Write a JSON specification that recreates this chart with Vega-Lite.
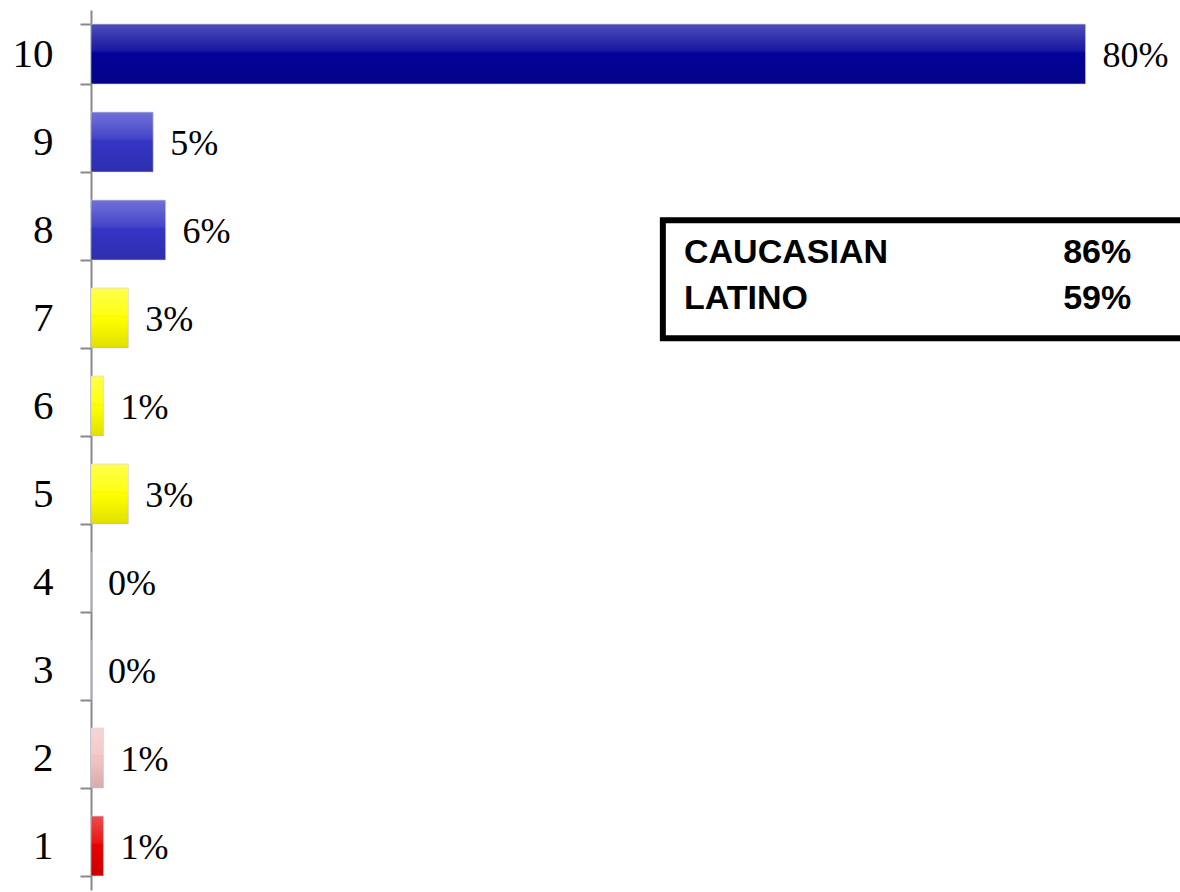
{
  "$schema": "https://vega.github.io/schema/vega-lite/v6.json",
  "width": 1089,
  "height": 880,
  "autosize": {"type": "none"},
  "padding": {"left": 91, "top": 10, "right": 0, "bottom": 2},
  "background": "white",
  "config": {"view": {"stroke": null}},
  "resolve": {"scale": {"y": "independent"}},
  "layer": [
    {
      "data": {"values": [
        {"score": "10", "pct": 0.80, "group": "g10"},
        {"score": "9", "pct": 0.05, "group": "g89"},
        {"score": "8", "pct": 0.06, "group": "g89"},
        {"score": "7", "pct": 0.03, "group": "g567"},
        {"score": "6", "pct": 0.01, "group": "g567"},
        {"score": "5", "pct": 0.03, "group": "g567"},
        {"score": "4", "pct": 0, "group": "g567"},
        {"score": "3", "pct": 0, "group": "g567"},
        {"score": "2", "pct": 0.01, "group": "g2"},
        {"score": "1", "pct": 0.01, "group": "g1"}
      ]},
      "encoding": {
        "y": {
          "field": "score", "type": "ordinal",
          "sort": ["10","9","8","7","6","5","4","3","2","1"],
          "scale": {"paddingInner": 0.32, "paddingOuter": 0.16},
          "axis": {
            "title": null,
            "tickBand": "extent",
            "domainColor": "#888888", "domainWidth": 2,
            "tickColor": "#888888", "tickWidth": 2, "tickSize": 11,
            "labelFont": "Liberation Serif", "labelFontSize": 41, "labelColor": "black",
            "labelPadding": 27
          }
        }
      },
      "layer": [
        {
          "mark": {"type": "bar", "stroke": "#c8c8e8", "strokeWidth": 1, "strokeOpacity": 0.6},
          "encoding": {
            "x": {"field": "pct", "type": "quantitative", "scale": {"domain": [0, 0.876], "nice": false}, "axis": null},
            "fill": {"field": "group", "type": "nominal", "legend": null,
              "scale": {"domain": ["g10","g89","g567","g2","g1"], "range": ["#03039a", "#3434c6", "#ffff00", "#f3c4c4", "#e80000"]}}
          }
        },
        {
          "mark": {"type": "bar", "fill": {"gradient": "linear", "x1": 0, "y1": 0, "x2": 0, "y2": 1, "stops": [
            {"offset": 0, "color": "rgba(255,255,255,0.30)"},
            {"offset": 0.45, "color": "rgba(255,255,255,0.08)"},
            {"offset": 0.5, "color": "rgba(0,0,0,0)"},
            {"offset": 1, "color": "rgba(0,0,0,0.12)"}
          ]}},
          "encoding": {
            "x": {"field": "pct", "type": "quantitative"}
          }
        },
        {
          "mark": {"type": "text", "align": "left", "baseline": "middle", "dx": 17, "dy": 2, "font": "Liberation Serif", "fontSize": 36, "color": "black"},
          "encoding": {
            "x": {"field": "pct", "type": "quantitative"},
            "text": {"field": "pct", "type": "quantitative", "format": ".0%"}
          }
        }
      ]
    },
    {
      "layer": [
        {
          "data": {"values": [{"x": 0.46, "x2": 0.95, "top": 8.11, "bottom": 6.77}]},
          "mark": {"type": "rect", "fill": "white", "stroke": "black", "strokeWidth": 6},
          "encoding": {
            "x": {"field": "x", "type": "quantitative"},
            "x2": {"field": "x2"},
            "y": {"field": "top", "type": "quantitative", "scale": {"domain": [0.5, 10.5], "nice": false, "zero": false}, "axis": null},
            "y2": {"field": "bottom"}
          }
        },
        {
          "data": {"values": [
            {"label": "CAUCASIAN", "value": "86%", "row": 7.744},
            {"label": "LATINO", "value": "59%", "row": 7.216}
          ]},
          "encoding": {
            "y": {"field": "row", "type": "quantitative", "scale": {"domain": [0.5, 10.5], "nice": false, "zero": false}, "axis": null}
          },
          "layer": [
            {
              "mark": {"type": "text", "align": "left", "baseline": "middle", "font": "Liberation Sans", "fontWeight": "bold", "fontSize": 34, "color": "black"},
              "encoding": {"x": {"datum": 0.477, "type": "quantitative"}, "text": {"field": "label"}}
            },
            {
              "mark": {"type": "text", "align": "left", "baseline": "middle", "font": "Liberation Sans", "fontWeight": "bold", "fontSize": 34, "color": "black"},
              "encoding": {"x": {"datum": 0.782, "type": "quantitative"}, "text": {"field": "value"}}
            }
          ]
        }
      ]
    }
  ]
}
